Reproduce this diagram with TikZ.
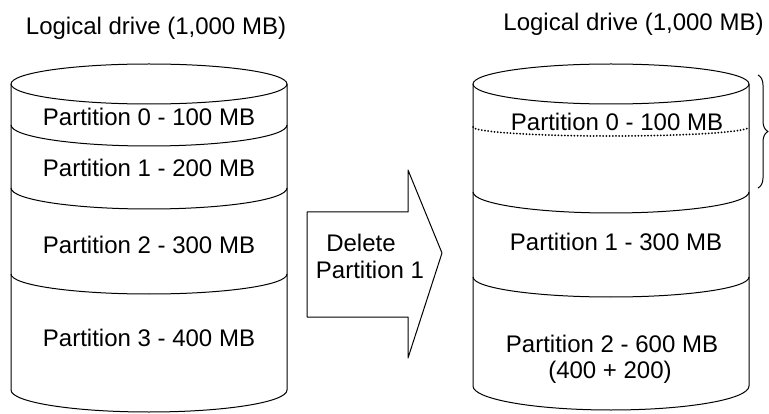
\documentclass[tikz,border=0pt]{standalone}
\usepackage{fontspec}
\setmainfont{Liberation Sans}
\usetikzlibrary{decorations.pathreplacing}
\begin{document}
\begin{tikzpicture}[x=1pt,y=1pt,
  line width=1pt, line join=round,
  lbl/.style={anchor=base, inner sep=0pt, font=\fontsize{24}{26}\selectfont},
  sep/.style={draw},
  dotsep/.style={draw, line width=2pt, line cap=round, dash pattern=on 0pt off 3.2pt},
  bracestyle/.style={draw, decorate, decoration={brace, amplitude=10pt}}]
\useasboundingbox (0,0) rectangle (769,413);
% ---------- left cylinder ----------
\draw (149,329) ellipse [x radius=138, y radius=20];
\draw (11,329) -- (11,23) arc[start angle=180, end angle=360, x radius=138, y radius=22] -- (287,329);
\draw[sep] (11,288) arc[start angle=180, end angle=360, x radius=138, y radius=21];
\draw[sep] (11,225) arc[start angle=180, end angle=360, x radius=138, y radius=21];
\draw[sep] (11,139) arc[start angle=180, end angle=360, x radius=138, y radius=20];
\node[lbl] (ltitle) at (156,378.6) {Logical drive (1,000 MB)};
\node[lbl] (lp0) at (149,287.3) {Partition 0 - 100 MB};
\node[lbl] (lp1) at (149,236.3) {Partition 1 - 200 MB};
\node[lbl] (lp2) at (149,159.3) {Partition 2 - 300 MB};
\node[lbl] (lp3) at (149,66.3) {Partition 3 - 400 MB};
% ---------- arrow ----------
\draw (307,201) -- (408,201) -- (408,243) -- (442,160) -- (408,55) -- (408,96) -- (307,96) -- cycle;
\node[lbl] (del) at (361,161.3) {Delete};
\node[lbl] (delp) at (370,134.3) {Partition 1};
% ---------- right cylinder ----------
\draw (611,329) ellipse [x radius=138, y radius=20];
\draw (473,329) -- (473,27) arc[start angle=180, end angle=360, x radius=138, y radius=24] -- (749,329);
\draw[dotsep] (473,286) arc[start angle=180, end angle=360, x radius=138, y radius=9];
\draw[sep] (473,221) arc[start angle=180, end angle=360, x radius=138, y radius=21];
\draw[sep] (473,136) arc[start angle=180, end angle=360, x radius=138, y radius=20];
\node[lbl] (rtitle) at (633.5,382) {Logical drive (1,000 MB)};
\node[lbl] (rp0) at (617,282.3) {Partition 0 - 100 MB};
\node[lbl] (rp1) at (616,162.3) {Partition 1 - 300 MB};
\node[lbl] (rp2a) at (612,60.3) {Partition 2 - 600 MB};
\node[lbl] (rp2b) at (610,34.3) {(400 + 200)};
% ---------- brace ----------
\coordinate (btop) at (758,338);
\coordinate (bbot) at (758,225);
\draw[bracestyle] (btop) -- (bbot);
\end{tikzpicture}
\end{document}
